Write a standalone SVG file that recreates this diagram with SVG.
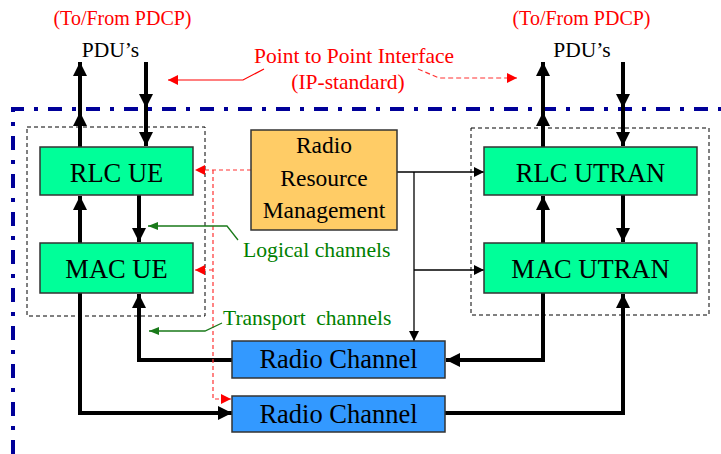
<svg xmlns="http://www.w3.org/2000/svg" width="721" height="454" viewBox="0 0 721 454">
<style>
text{font-family:"Liberation Serif","Times New Roman",serif;}
.red{fill:#ff0000;}
.grn{fill:#008000;}
.blk{fill:#000;}
.node{stroke:#333;stroke-width:1.5;}
.thick{stroke:#000;stroke-width:4;fill:none;marker-end:url(#ah);}
.thin{stroke:#000;stroke-width:1.3;fill:none;marker-end:url(#as);}
.rdash{stroke:#ff3333;stroke-width:1.2;stroke-dasharray:4 3;fill:none;}
.gline{stroke:#1a7a1a;stroke-width:1.3;fill:none;}
.box{fill:none;stroke:#000;stroke-width:1;stroke-dasharray:4 3;}
</style>
<defs>
<marker id="ah" markerUnits="userSpaceOnUse" markerWidth="16" markerHeight="16" refX="14" refY="7" orient="auto"><path d="M0,0 L14,7 L0,14 z" fill="#000"/></marker>
<marker id="as" markerUnits="userSpaceOnUse" markerWidth="12" markerHeight="12" refX="10" refY="5" orient="auto"><path d="M0,0 L10,5 L0,10 z" fill="#000"/></marker>
<marker id="ar" markerUnits="userSpaceOnUse" markerWidth="12" markerHeight="12" refX="10" refY="5" orient="auto"><path d="M0,0 L10,5 L0,10 z" fill="#ff0000"/></marker>
<marker id="ag" markerUnits="userSpaceOnUse" markerWidth="12" markerHeight="12" refX="10" refY="4" orient="auto"><path d="M0,0 L10,4 L0,8 z" fill="#1a7a1a"/></marker>
</defs>

<!-- blue dash-dot boundary -->
<path d="M13,454 L13,109 L721,109" fill="none" stroke="#000099" stroke-width="4" stroke-dasharray="14 10 4 10"/>

<!-- dashed groupings -->
<rect class="box" x="27" y="127" width="178" height="189"/>
<rect class="box" x="471" y="128" width="238" height="187"/>

<!-- labels -->
<text class="red" x="122.5" y="25" font-size="20" text-anchor="middle">(To/From PDCP)</text>
<text class="blk" x="110.5" y="57" font-size="21.5" text-anchor="middle">PDU’s</text>
<text class="red" x="581.5" y="25" font-size="20" text-anchor="middle">(To/From PDCP)</text>
<text class="blk" x="582" y="57" font-size="21.5" text-anchor="middle">PDU’s</text>
<text class="red" x="354" y="63" font-size="21.5" text-anchor="middle">Point to Point Interface</text>
<text class="red" x="348" y="89" font-size="21.5" text-anchor="middle">(IP-standard)</text>
<text class="grn" x="243" y="257" font-size="21.7">Logical channels</text>
<text class="grn" x="223" y="325" font-size="21.5" word-spacing="5">Transport channels</text>

<g id="connectors">
  <!-- PDU arrows left -->
  <line class="thick" x1="80" y1="147" x2="80" y2="112"/>
  <line class="thick" x1="80" y1="112" x2="80" y2="62"/>
  <line class="thick" x1="146" y1="62" x2="146" y2="108"/>
  <line class="thick" x1="146" y1="108" x2="146" y2="146"/>
  <!-- PDU arrows right -->
  <line class="thick" x1="543" y1="147" x2="543" y2="112"/>
  <line class="thick" x1="543" y1="112" x2="543" y2="62"/>
  <line class="thick" x1="623" y1="62" x2="623" y2="108"/>
  <line class="thick" x1="623" y1="108" x2="623" y2="146"/>
  <!-- RLC/MAC UE -->
  <line class="thick" x1="80" y1="243" x2="80" y2="196"/>
  <line class="thick" x1="139" y1="195" x2="139" y2="242"/>
  <!-- RLC/MAC UTRAN -->
  <line class="thick" x1="543" y1="243" x2="543" y2="196"/>
  <line class="thick" x1="623" y1="195" x2="623" y2="242"/>
  <!-- MAC UE to radio channels -->
  <path class="thick" d="M80,293 L80,413 L232,413"/>
  <path class="thick" d="M232,360 L139,360 L139,294"/>
  <!-- MAC UTRAN to radio channels -->
  <path class="thick" d="M543,293 L543,360 L446,360"/>
  <path class="thick" d="M445,413 L623,413 L623,294"/>
  <!-- RRM thin -->
  <path class="thin" d="M397,172 L484,172"/>
  <path class="thin" d="M414,172 L414,341"/>
  <path class="thin" d="M414,270 L484,270"/>
  <!-- red dashed control -->
  <path class="rdash" d="M251,170 L195,170" marker-end="url(#ar)"/>
  <path class="rdash" d="M213,170 L213,399 L231,399" marker-end="url(#ar)"/>
  <path class="rdash" d="M213,270 L195,270" marker-end="url(#ar)"/>
  <!-- red interface leaders -->
  <path d="M264,69 L243,80 L168,80" fill="none" stroke="#ff0000" stroke-width="1.2" marker-end="url(#ar)"/>
  <path d="M418,69 L439,78 L517,78" fill="none" stroke="#ff3333" stroke-width="1.2" stroke-dasharray="5 3" marker-end="url(#ar)"/>
  <!-- green leaders -->
  <path class="gline" d="M238,240 L227,226 L148,226" marker-end="url(#ag)"/>
  <path class="gline" d="M222,323 L205,331 L149,331" marker-end="url(#ag)"/>
</g>

<g id="rlc_ue">
  <rect class="node" x="40" y="147" width="153" height="48" fill="#00ff99"/>
  <text class="blk" x="116.5" y="182" font-size="26.5" text-anchor="middle">RLC UE</text>
</g>
<g id="mac_ue">
  <rect class="node" x="40" y="243" width="153" height="50" fill="#00ff99"/>
  <text class="blk" x="116.5" y="278" font-size="26.5" text-anchor="middle">MAC UE</text>
</g>
<g id="rlc_utran">
  <rect class="node" x="484" y="147" width="213" height="48" fill="#00ff99"/>
  <text class="blk" x="590.5" y="182" font-size="26.5" text-anchor="middle">RLC UTRAN</text>
</g>
<g id="mac_utran">
  <rect class="node" x="484" y="243" width="213" height="50" fill="#00ff99"/>
  <text class="blk" x="590.5" y="278" font-size="26.5" text-anchor="middle">MAC UTRAN</text>
</g>
<g id="rrm">
  <rect class="node" x="251" y="130" width="146" height="100" fill="#ffcc66"/>
  <text class="blk" x="324" y="153" font-size="23.5" text-anchor="middle">Radio</text>
  <text class="blk" x="324" y="186" font-size="23.5" text-anchor="middle">Resource</text>
  <text class="blk" x="324" y="218" font-size="23.5" text-anchor="middle">Management</text>
</g>
<g id="radio_channel_1">
  <rect class="node" x="232" y="341" width="213" height="37" fill="#3399ff"/>
  <text class="blk" x="338.5" y="368" font-size="26.5" text-anchor="middle">Radio Channel</text>
</g>
<g id="radio_channel_2">
  <rect class="node" x="232" y="396" width="213" height="36" fill="#3399ff"/>
  <text class="blk" x="338.5" y="423" font-size="26.5" text-anchor="middle">Radio Channel</text>
</g>
</svg>
